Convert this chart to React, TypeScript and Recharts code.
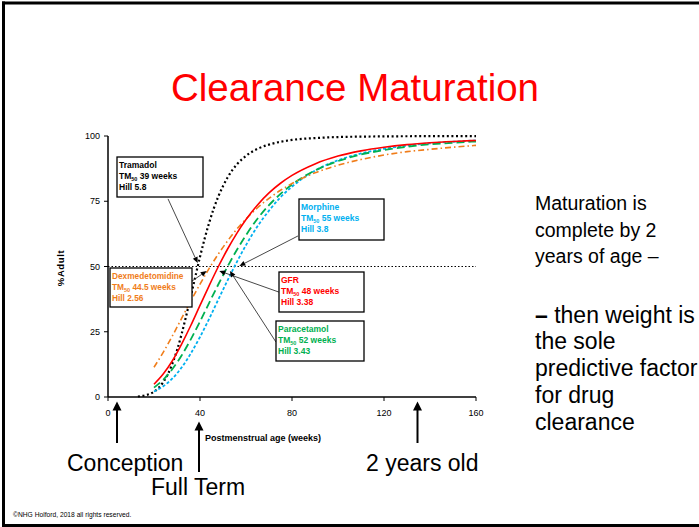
import React from 'react';
import { LineChart, Line, XAxis, YAxis, ReferenceLine } from 'recharts';

// Postmenstrual age (weeks) sampling grid
const pma = [20, 24, 28, 32, 36, 40, 44, 48, 52, 56, 60, 65, 70, 75, 80, 90, 100, 110, 120, 130, 140, 150, 160];
const gfr = [4.9, 8.8, 13.9, 20.3, 27.4, 35.1, 42.7, 50, 56.7, 62.7, 68.0, 73.6, 78.2, 81.9, 84.9, 89.3, 92.3, 94.3, 95.7, 96.7, 97.4, 97.9, 98.3];
const dexmedetomidine = [11.4, 17.1, 23.4, 30.1, 36.8, 43.2, 49.3, 54.8, 59.8, 64.3, 68.2, 72.5, 76.1, 79.2, 81.8, 85.9, 88.8, 91.0, 92.7, 94.0, 94.9, 95.7, 96.4];
const paracetamol = [3.6, 6.6, 10.7, 15.9, 22.1, 28.9, 36.1, 43.2, 50, 56.3, 62.0, 68.3, 73.5, 77.8, 81.4, 86.8, 90.4, 92.9, 94.6, 95.9, 96.8, 97.4, 97.9];
const morphine = [2.1, 4.1, 7.1, 11.3, 16.7, 23.0, 30.0, 37.4, 44.7, 51.7, 58.2, 65.4, 71.4, 76.5, 80.6, 86.7, 90.7, 93.3, 95.1, 96.3, 97.2, 97.8, 98.3];
const tramadolPma = [13, 16, 18, 20, 22, 24, 26, 28, 30, 32, 34, 36, 38, 40, 42, 44, 46, 48, 52, 56, 60, 65, 70, 80, 90, 100, 120, 140, 160];
const tramadol = [0.2, 0.6, 1.1, 2.0, 3.5, 5.7, 8.7, 12.8, 17.9, 24.1, 31.1, 38.6, 46.2, 53.7, 60.6, 66.8, 72.3, 76.9, 84.1, 89.1, 92.4, 95.1, 96.7, 98.5, 99.2, 99.6, 99.85, 99.94, 99.97];

const xTicks = [0, 40, 80, 120, 160];
const yTicks = [0, 25, 50, 75, 100];

// leader lines: [from, to-arrow tip] in data coordinates
const leaders = [
  { from: { x: 26.1, y: 75.9 }, to: { x: 39.0, y: 51.3 } },
  { from: { x: 82.6, y: 61.7 }, to: { x: 57.1, y: 50.2 } },
  { from: { x: 36.5, y: 44.4 }, to: { x: 42.9, y: 48.3 } },
  { from: { x: 74.3, y: 40.2 }, to: { x: 48.4, y: 48.3 } },
  { from: { x: 73.0, y: 21.1 }, to: { x: 53.0, y: 48.3 } },
];

const COLORS = {
  gfr: '#FF0000',
  dex: '#F07D1A',
  para: '#00B050',
  morph: '#00B0F0',
  tram: '#000000',
};

const FONT = '"Liberation Sans", Arial, Helvetica, sans-serif';

const toSeries = (xs: number[], ys: number[]) => xs.map((x, i) => ({ x, y: ys[i] }));

const ArrowShape = (props: any) => {
  const { x1, y1, x2, y2 } = props;
  const dx = x2 - x1;
  const dy = y2 - y1;
  const len = Math.sqrt(dx * dx + dy * dy) || 1;
  const ux = dx / len;
  const uy = dy / len;
  const hl = 6;
  const hw = 2.6;
  const bx = x2 - ux * hl;
  const by = y2 - uy * hl;
  const p1 = `${x2},${y2}`;
  const p2 = `${bx - uy * hw},${by + ux * hw}`;
  const p3 = `${bx + uy * hw},${by - ux * hw}`;
  return (
    <g>
      <line x1={x1} y1={y1} x2={bx} y2={by} stroke="#333" strokeWidth={0.9} />
      <polygon points={`${p1} ${p2} ${p3}`} fill="#000" />
    </g>
  );
};

const Box = ({ x, y, w, h, color, name, tm, hill, size = 8.5 }: any) => (
  <g>
    <rect x={x} y={y} width={w} height={h} fill="#fff" stroke="#000" strokeWidth={1.3} />
    <text x={x + 2} y={y + 11} fill={color} fontSize={size} fontWeight="bold" fontFamily={FONT}>{name}</text>
    <text x={x + 2} y={y + 22} fill={color} fontSize={size} fontWeight="bold" fontFamily={FONT}>
      TM<tspan fontSize={5.5} dy={2}>50</tspan><tspan dy={-2}>{` ${tm} weeks`}</tspan>
    </text>
    <text x={x + 2} y={y + 33} fill={color} fontSize={size} fontWeight="bold" fontFamily={FONT}>{`Hill ${hill}`}</text>
  </g>
);

const UpArrow = ({ x, tip, tail }: any) => (
  <g>
    <line x1={x} y1={tail} x2={x} y2={tip + 7} stroke="#000" strokeWidth={2} />
    <polygon points={`${x},${tip} ${x - 4.5},${tip + 9} ${x + 4.5},${tip + 9}`} fill="#000" />
  </g>
);

const rightLines = [
  { t: 'Maturation is', y: 210, s: 19.5 },
  { t: 'complete by 2', y: 237, s: 19.5 },
  { t: 'years of age \u2013', y: 263, s: 19.5 },
  { t: 'then weight is', y: 323, s: 23, dash: true },
  { t: 'the sole', y: 349, s: 23 },
  { t: 'predictive factor', y: 376, s: 23 },
  { t: 'for drug', y: 403, s: 23 },
  { t: 'clearance', y: 430, s: 23 },
];

export default function App() {
  return (
    <div style={{ position: 'absolute', left: 0, top: 0, width: 699, height: 527, overflow: 'hidden', background: '#fff' }}>
      <div style={{ position: 'absolute', left: 0, top: 0 }}>
        <LineChart width={699} height={527} margin={{ top: 136, right: 223, bottom: 100, left: 68 }}>
          <XAxis
            type="number"
            dataKey="x"
            domain={[0, 160]}
            ticks={xTicks}
            allowDataOverflow
            height={30}
            tickSize={4}
            tickMargin={9}
            axisLine={{ stroke: '#000', strokeWidth: 1.5 }}
            tickLine={{ stroke: '#000', strokeWidth: 1 }}
            tick={{ fontSize: 9, fill: '#000', fontFamily: FONT }}
          />
          <YAxis
            type="number"
            domain={[0, 100]}
            ticks={yTicks}
            width={40}
            tickSize={4}
            tickMargin={4}
            axisLine={{ stroke: '#000', strokeWidth: 1.5 }}
            tickLine={{ stroke: '#000', strokeWidth: 1 }}
            tick={{ fontSize: 9, fill: '#000', fontFamily: FONT }}
          />
          <ReferenceLine y={50} stroke="#000" strokeWidth={1.2} strokeDasharray="1.5 2" />
          <Line data={toSeries(tramadolPma, tramadol)} dataKey="y" type="monotone" stroke={COLORS.tram} strokeWidth={2.2} strokeDasharray="2 2.6" dot={false} activeDot={false} isAnimationActive={false} />
          <Line data={toSeries(pma, morphine)} dataKey="y" type="monotone" stroke={COLORS.morph} strokeWidth={1.8} strokeDasharray="3 2" dot={false} activeDot={false} isAnimationActive={false} />
          <Line data={toSeries(pma, paracetamol)} dataKey="y" type="monotone" stroke={COLORS.para} strokeWidth={1.8} strokeDasharray="8 4" dot={false} activeDot={false} isAnimationActive={false} />
          <Line data={toSeries(pma, dexmedetomidine)} dataKey="y" type="monotone" stroke={COLORS.dex} strokeWidth={1.6} strokeDasharray="6 3 1.5 3" dot={false} activeDot={false} isAnimationActive={false} />
          <Line data={toSeries(pma, gfr)} dataKey="y" type="monotone" stroke={COLORS.gfr} strokeWidth={1.6} dot={false} activeDot={false} isAnimationActive={false} />
          {leaders.map((l, i) => (
            <ReferenceLine key={i} segment={[l.from, l.to]} shape={ArrowShape} ifOverflow="visible" />
          ))}
        </LineChart>
      </div>
      <svg width={699} height={527} style={{ position: 'absolute', left: 0, top: 0, pointerEvents: 'none' }}>
        {/* slide frame */}
        <line x1={3.5} y1={1.5} x2={3.5} y2={527} stroke="#000" strokeWidth={3} />
        <line x1={2} y1={3} x2={699} y2={3} stroke="#000" strokeWidth={3} />
        <line x1={2} y1={525.5} x2={699} y2={525.5} stroke="#000" strokeWidth={3} />

        <text x={355} y={101} textAnchor="middle" fill="#FF0000" fontSize={38.5} fontFamily={FONT}>Clearance Maturation</text>

        <text transform="translate(64,268) rotate(-90)" textAnchor="middle" fontSize={9.5} fontWeight="bold" fontFamily={FONT} letterSpacing={0.6} fill="#000">%Adult</text>
        <text x={205} y={441} fontSize={9} fontWeight="bold" fontFamily={FONT} fill="#000">Postmenstrual age (weeks)</text>

        <Box x={117} y={157} w={86} h={40} color="#000" name="Tramadol" tm="39" hill="5.8" />
        <Box x={299} y={199} w={85} h={41} color={COLORS.morph} name="Morphine" tm="55" hill="3.8" />
        <Box x={110} y={268} w={82} h={39} color={COLORS.dex} name="Dexmedetomidine" tm="44.5" hill="2.56" size={8.3} />
        <Box x={279} y={272} w={85} h={40} color={COLORS.gfr} name="GFR" tm="48" hill="3.38" />
        <Box x={276} y={321} w={88} h={40} color={COLORS.para} name="Paracetamol" tm="52" hill="3.43" />

        <UpArrow x={117} tip={401.5} tail={443} />
        <UpArrow x={199} tip={421.5} tail={472} />
        <UpArrow x={417.5} tip={401.5} tail={443} />
        <text x={67} y={471} fontSize={23} fontFamily={FONT} fill="#000">Conception</text>
        <text x={151} y={495} fontSize={23} fontFamily={FONT} fill="#000">Full Term</text>
        <text x={366} y={471} fontSize={23} fontFamily={FONT} fill="#000">2 years old</text>

        {rightLines.map((l, i) => (
          <text key={i} x={535} y={l.y} fontSize={l.s} fontFamily={FONT} fill="#000">
            {l.dash ? <tspan fontWeight="bold">{'\u2013 '}</tspan> : null}
            {l.t}
          </text>
        ))}

        <text x={13} y={517} fontSize={6.7} fontFamily={FONT} fill="#000">©NHG Holford, 2018 all rights reserved.</text>
      </svg>
    </div>
  );
}
